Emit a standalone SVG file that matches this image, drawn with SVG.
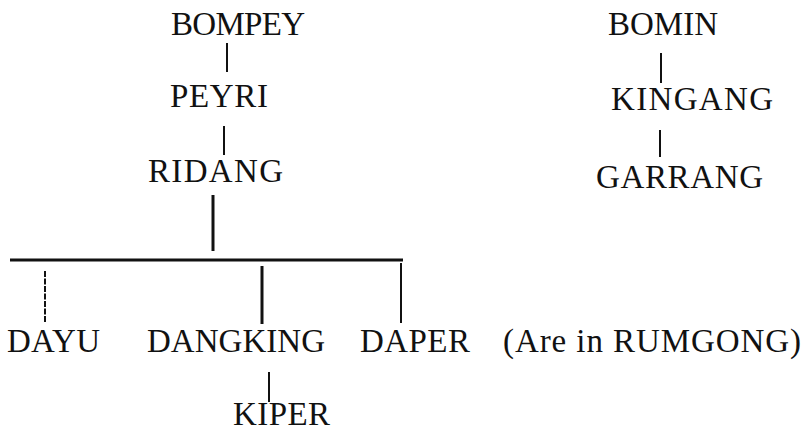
<svg xmlns="http://www.w3.org/2000/svg" width="806" height="428" viewBox="0 0 806 428">
<style>
text{font-family:"Liberation Serif","Times New Roman",serif;font-size:33px;fill:#111}
.c{stroke:#111;stroke-width:2;fill:none}
.t{stroke-width:3}
</style>
<rect width="806" height="428" fill="#fff"/>
<g id="connectors">
<line class="c" x1="227" y1="43" x2="227" y2="72"/>
<line class="c" x1="224" y1="126" x2="224" y2="155"/>
<line class="c t" x1="213" y1="195" x2="213" y2="251"/>
<line class="c t" x1="10" y1="260" x2="403" y2="260"/>
<line class="c" x1="45" y1="271" x2="45" y2="322" stroke-dasharray="6 1.5"/>
<line class="c t" x1="262" y1="266" x2="262" y2="324"/>
<line class="c" x1="401" y1="263" x2="401" y2="323"/>
<line class="c" x1="269" y1="372" x2="269" y2="402"/>
<line class="c" x1="661" y1="53" x2="661" y2="83"/>
<line class="c" x1="660" y1="130" x2="660" y2="157"/>
</g>
<g id="bompey"><text x="171" y="35" textLength="134" lengthAdjust="spacing">BOMPEY</text></g>
<g id="peyri"><text x="170" y="107" textLength="98" lengthAdjust="spacing">PEYRI</text></g>
<g id="ridang"><text x="148" y="182" textLength="135" lengthAdjust="spacing">RIDANG</text></g>
<g id="dayu"><text x="7" y="352" textLength="93" lengthAdjust="spacing">DAYU</text></g>
<g id="dangking"><text x="147" y="352" textLength="178" lengthAdjust="spacing">DANGKING</text></g>
<g id="daper"><text x="360" y="352" textLength="110" lengthAdjust="spacing">DAPER</text></g>
<g id="note"><text x="503" y="352" textLength="298" lengthAdjust="spacing">(Are in RUMGONG)</text></g>
<g id="kiper"><text x="233" y="425" textLength="97" lengthAdjust="spacing">KIPER</text></g>
<g id="bomin"><text x="608" y="35" textLength="110" lengthAdjust="spacing">BOMIN</text></g>
<g id="kingang"><text x="611" y="110" textLength="162" lengthAdjust="spacing">KINGANG</text></g>
<g id="garrang"><text x="596" y="188" textLength="167" lengthAdjust="spacing">GARRANG</text></g>
</svg>
